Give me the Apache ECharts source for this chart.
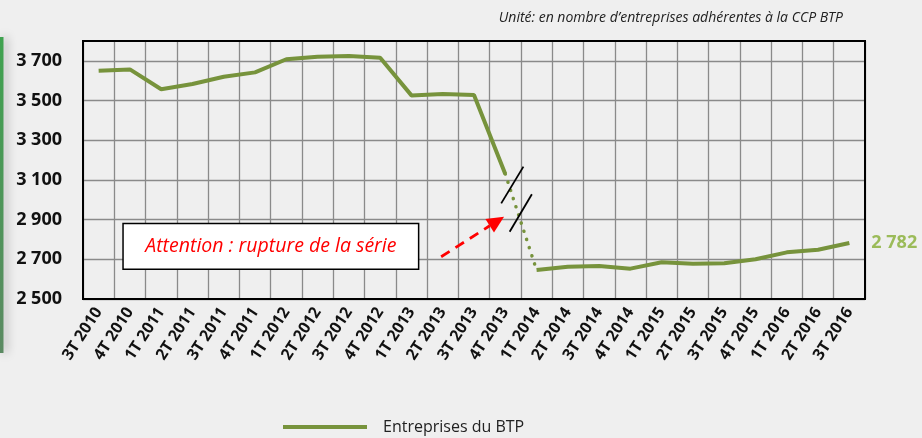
<!DOCTYPE html>
<html>
<head>
<meta charset="utf-8">
<script src="https://cdn.jsdelivr.net/npm/echarts@6/dist/echarts.min.js"></script>
<style>
html,body{margin:0;padding:0;background:#efefef;}
#c{width:922px;height:438px;}
</style>
</head>
<body>
<div id="c"></div>
<script>
// ---- Data ----
const categories = ['3T 2010','4T 2010','1T 2011','2T 2011','3T 2011','4T 2011','1T 2012','2T 2012','3T 2012','4T 2012','1T 2013','2T 2013','3T 2013','4T 2013','1T 2014','2T 2014','3T 2014','4T 2014','1T 2015','2T 2015','3T 2015','4T 2015','1T 2016','2T 2016','3T 2016'];
const entreprises = [3650,3657,3557,3583,3620,3642,3708,3721,3724,3716,3526,3533,3528,3130,2646,2663,2666,2653,2685,2678,2680,2700,2735,2748,2782];
const breakIndex = 13; // last point of the old series; next point starts the new one
const yTicks = [2500,2700,2900,3100,3300,3500,3700];
const seriesName = 'Entreprises du BTP';
const unitText = 'Unité: en nombre d’entreprises adhérentes à la CCP BTP';
const warningText = 'Attention : rupture de la série';

// annotation anchors in data space [categoryIndex (fractional), value]
const boxAnchor = [[0.78, 2881], [10.23, 2650]];
const arrowAnchor = [[10.95, 2713], [12.96, 2915]];
const slashAnchors = [[[12.87, 2982], [13.58, 3167]], [[13.14, 2839], [13.85, 3028]]];

const fmt = v => String(v).replace(/\B(?=(\d{3})+(?!\d))/g, ' ');

const oldPart = entreprises.map((v, i) => i <= breakIndex ? v : null);
const linkPart = entreprises.map((v, i) => (i === breakIndex || i === breakIndex + 1) ? v : null);
const newPart = entreprises.map((v, i) => i > breakIndex ? v : null);

const GREEN = '#77933C';
const chart = echarts.init(document.getElementById('c'), null, {renderer: 'canvas'});
const grid = {left: 83, right: 57, top: 41, bottom: 139};

chart.setOption({
  backgroundColor: '#efefef',
  animation: false,
  textStyle: {fontFamily: 'Open Sans'},
  grid: grid,
  legend: {
    data: [seriesName],
    icon: 'rect',
    left: 278, top: 414,
    itemWidth: 84, itemHeight: 4,
    textStyle: {fontSize: 16, color: '#222', fontFamily: 'Open Sans', padding: [0, 0, 0, 11]}
  },
  xAxis: {
    type: 'category',
    data: categories,
    boundaryGap: true,
    axisLine: {show: true, lineStyle: {color: '#000', width: 2}},
    axisTick: {show: false},
    splitLine: {show: true, lineStyle: {color: '#8a8a8a', width: 1.3}},
    axisLabel: {rotate: 57, interval: 0, margin: 10, fontSize: 16, fontWeight: 'bold', color: '#111', fontFamily: 'Open Sans'}
  },
  yAxis: {
    type: 'value',
    min: 2500, max: 3800,
    axisLine: {show: true, lineStyle: {color: '#000', width: 2}},
    axisTick: {show: false, customValues: yTicks},
    splitLine: {show: true, lineStyle: {color: '#8a8a8a', width: 1.3}},
    axisLabel: {customValues: yTicks, formatter: fmt, margin: 21, fontSize: 18, fontWeight: 'bold', color: '#111', fontFamily: 'Open Sans'}
  },
  series: [
    {name: seriesName, type: 'line', data: oldPart, symbol: 'none', connectNulls: false,
     lineStyle: {color: GREEN, width: 4}, itemStyle: {color: GREEN}, z: 5},
    {name: 'rupture', type: 'line', data: linkPart, symbol: 'none',
     lineStyle: {color: GREEN, width: 3.5, type: [0.1, 8.5], cap: 'round'}, itemStyle: {color: GREEN}, z: 5},
    {name: seriesName, type: 'line', data: newPart, symbol: 'none',
     lineStyle: {color: GREEN, width: 4}, itemStyle: {color: GREEN}, z: 5,
     endLabel: {show: true, formatter: p => fmt(p.value), distance: 22, color: '#9BBB59', fontSize: 18, fontWeight: 'bold', fontFamily: 'Open Sans'}}
  ]
});

// pixel conversion for fractional category positions
function px(pt) {
  const x0 = chart.convertToPixel({xAxisIndex: 0}, 0);
  const x1 = chart.convertToPixel({xAxisIndex: 0}, 1);
  const x = x0 + pt[0] * (x1 - x0);
  const y = chart.convertToPixel({yAxisIndex: 0}, pt[1]);
  return [x, y];
}

const b0 = px(boxAnchor[0]), b1 = px(boxAnchor[1]);
const a0 = px(arrowAnchor[0]), a1 = px(arrowAnchor[1]);
const ang = Math.atan2(a1[1] - a0[1], a1[0] - a0[0]);
const headLen = 17, headW = 8;
const baseX = a1[0] - headLen * Math.cos(ang), baseY = a1[1] - headLen * Math.sin(ang);
const nx = -Math.sin(ang), ny = Math.cos(ang);
const W = chart.getWidth(), H = chart.getHeight();
const plotL = grid.left, plotT = grid.top, plotW = W - grid.left - grid.right, plotH = H - grid.top - grid.bottom;

const graphics = [
  // left decorative bar
  {type: 'rect', left: 0, top: 37, shape: {width: 3.5, height: 316},
   style: {fill: new echarts.graphic.LinearGradient(0, 0, 0, 1, [{offset: 0, color: '#3fa24f'}, {offset: 1, color: '#5b8a62'}]),
           shadowBlur: 10, shadowColor: 'rgba(0,0,0,0.35)', shadowOffsetX: 3}, z: 10},
  // plot frame
  {type: 'rect', shape: {x: plotL, y: plotT, width: plotW, height: plotH},
   style: {fill: null, stroke: '#000', lineWidth: 2}, z: 20},
  // unit text
  {type: 'text', right: 79, top: 11,
   style: {text: unitText, font: 'italic 14px "Open Sans"', fill: '#222'}, z: 20},
  // warning box
  {type: 'rect', shape: {x: b0[0], y: b0[1], width: b1[0] - b0[0], height: b1[1] - b0[1]},
   style: {fill: '#fff', stroke: '#000', lineWidth: 1.5}, z: 30},
  {type: 'text', x: (b0[0] + b1[0]) / 2, y: (b0[1] + b1[1]) / 2,
   style: {text: warningText, font: 'italic 19.5px "Open Sans"', fill: '#ff0000', align: 'center', verticalAlign: 'middle'}, z: 31},
  // dashed arrow
  {type: 'line', shape: {x1: a0[0], y1: a0[1], x2: baseX, y2: baseY},
   style: {stroke: '#ff0000', lineWidth: 2.8, lineDash: [10, 7]}, z: 30},
  {type: 'polygon', shape: {points: [[a1[0], a1[1]], [baseX + nx * headW, baseY + ny * headW], [baseX - nx * headW, baseY - ny * headW]]},
   style: {fill: '#ff0000'}, z: 30}
];
slashAnchors.forEach(s => {
  const p0 = px(s[0]), p1 = px(s[1]);
  graphics.push({type: 'line', shape: {x1: p0[0], y1: p0[1], x2: p1[0], y2: p1[1]},
                 style: {stroke: '#000', lineWidth: 1.8}, z: 30});
});
chart.setOption({graphic: graphics});
</script>
</body>
</html>
